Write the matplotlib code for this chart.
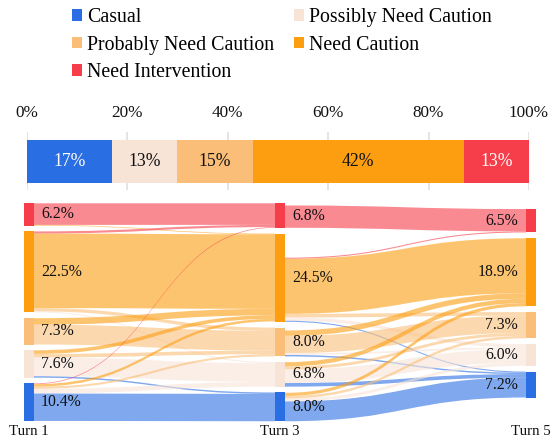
import matplotlib
matplotlib.use("Agg")
import matplotlib.pyplot as plt
from matplotlib.patches import Patch, PathPatch
from matplotlib.path import Path

plt.rcParams["font.family"] = ["Liberation Serif", "DejaVu Serif"]

# ---- data ----
categories = ["Casual", "Possibly Need Caution", "Probably Need Caution",
              "Need Caution", "Need Intervention"]
colors = ["#2a6ee3", "#f7e4d7", "#fabe78", "#fd9e10", "#f63d4a"]
overall_share = [17, 13, 15, 42, 13]

legend_order = ["Casual", "Probably Need Caution", "Need Intervention",
                "Possibly Need Caution", "Need Caution"]

turns = ["Turn 1", "Turn 3", "Turn 5"]
# sankey node order, top -> bottom
node_order = ["Need Intervention", "Need Caution", "Probably Need Caution",
              "Possibly Need Caution", "Casual"]
turn1_share = [6.2, 22.5, 7.3, 7.6, 10.4]
turn3_share = [6.8, 24.5, 8.0, 6.8, 8.0]
turn5_share = [6.5, 18.9, 7.3, 6.0, 7.2]

# rows = source node, cols = target node (same order as node_order)
flow_1_to_3 = [
    [6.0, 0.2, 0.0, 0.0, 0.0],
    [0.6, 20.7, 0.9, 0.3, 0.0],
    [0.0, 1.8, 5.5, 0.0, 0.0],
    [0.0, 1.0, 1.0, 5.2, 0.4],
    [0.2, 0.7, 0.6, 1.3, 7.6],
]
flow_3_to_5 = [
    [6.2, 0.0, 0.0, 0.0, 0.0],
    [0.3, 15.3, 1.0, 0.9, 0.3],
    [0.0, 1.5, 4.8, 0.5, 0.4],
    [0.0, 1.2, 0.8, 3.8, 1.0],
    [0.0, 0.9, 0.7, 0.8, 5.5],
]

W, H = 552, 436
fig = plt.figure(figsize=(W / 100, H / 100), dpi=100)


def fig_box(x0, y0, x1, y1):
    # pixel box (top-left origin) -> figure fraction
    return [x0 / W, 1 - y1 / H, (x1 - x0) / W, (y1 - y0) / H]


color_of = dict(zip(categories, colors))

# ---- legend ----
handles = [Patch(facecolor=color_of[c], edgecolor="none", label=c) for c in legend_order]
fig.legend(handles=handles, ncol=2, loc="upper left",
           bbox_to_anchor=(72 / W, 1 - 8 / H), frameon=False, fontsize=14.3,
           handlelength=0.5, handleheight=0.5, handletextpad=0.25,
           columnspacing=1.0, labelspacing=0.43, borderpad=0, borderaxespad=0)

# ---- stacked overall bar ----
axb = fig.add_axes(fig_box(26.7, 132, 529, 190))
left = 0
for c, v in zip(categories, overall_share):
    axb.barh(0, v, left=left, height=1, color=color_of[c], zorder=2)
    txt_col = "white" if c in ("Casual", "Need Intervention") else "#111111"
    axb.text(left + v / 2, 0, f"{v}%", ha="center", va="center",
             color=txt_col, fontsize=12.7, zorder=3)
    left += v
axb.set_xlim(0, 100)
axb.set_ylim(-0.654, 0.686)
axb.xaxis.tick_top()
axb.set_xticks(range(0, 101, 20))
axb.set_xticklabels([f"{t}%" for t in range(0, 101, 20)])
axb.tick_params(axis="x", length=0, pad=8, labelsize=12.3, colors="#111111")
axb.set_yticks([])
axb.grid(axis="x", color="#e2e2e2", lw=1.3, zorder=0)
axb.set_axisbelow(True)
for s in axb.spines.values():
    s.set_visible(False)

# ---- sankey ----
px_per_unit = 3.6          # pixels per percent
col_step = 251             # pixels between columns
node_w = 10 / col_step
gap = 5.8 / px_per_unit
col_offset = [0, 0, 1.6]
top_px, bot_px = 203.3, 421.7

axs = fig.add_axes(fig_box(24, top_px, 24 + 2 * col_step + 10, bot_px))
axs.set_xlim(0, 2 + node_w)
axs.set_ylim((bot_px - top_px) / px_per_unit, 0)
axs.axis("off")

shares = [turn1_share, turn3_share, turn5_share]
node_top = []
for ci, vals in enumerate(shares):
    tops, y = [], col_offset[ci]
    for v in vals:
        tops.append(y)
        y += v + gap
    node_top.append(tops)


def band(x0, y0a, y0b, x1, y1a, y1b, color):
    xm = (x0 + x1) / 2
    verts = [(x0, y0a), (xm, y0a), (xm, y1a), (x1, y1a),
             (x1, y1b), (xm, y1b), (xm, y0b), (x0, y0b), (x0, y0a)]
    codes = [Path.MOVETO, Path.CURVE4, Path.CURVE4, Path.CURVE4,
             Path.LINETO, Path.CURVE4, Path.CURVE4, Path.CURVE4, Path.CLOSEPOLY]
    axs.add_patch(PathPatch(Path(verts, codes), facecolor=color, edgecolor="none",
                            alpha=0.6, zorder=1))


for si, flows in enumerate([flow_1_to_3, flow_3_to_5]):
    src_vals, ti = shares[si], si + 1
    n = len(node_order)
    # outgoing links sit at the bottom of the source node
    out_pos = [node_top[si][i] + src_vals[i] - sum(flows[i]) for i in range(n)]
    in_pos = list(node_top[ti])
    for i in range(n):
        for j in range(n):
            f = flows[i][j]
            if f <= 0:
                continue
            band(si + node_w, out_pos[i], out_pos[i] + f,
                 ti, in_pos[j], in_pos[j] + f, color_of[node_order[j]])
            out_pos[i] += f
            in_pos[j] += f

for ci, vals in enumerate(shares):
    for i, v in enumerate(vals):
        y0 = node_top[ci][i]
        axs.bar(ci, v, bottom=y0, width=node_w, align="edge",
                color=color_of[node_order[i]], zorder=2)
        if ci < 2:
            axs.text(ci + node_w + 7 / col_step, y0 + v / 2, f"{v}%",
                     ha="left", va="center", fontsize=11.3, color="#111111", zorder=3)
        else:
            axs.text(ci - 8 / col_step, y0 + v / 2, f"{v}%",
                     ha="right", va="center", fontsize=11.3, color="#111111", zorder=3)
    axs.text(ci + node_w / 2, (431 - top_px) / px_per_unit, turns[ci],
             ha="center", va="center", fontsize=10.7, color="#111111", clip_on=False)

fig.savefig("out.png", dpi=100)
